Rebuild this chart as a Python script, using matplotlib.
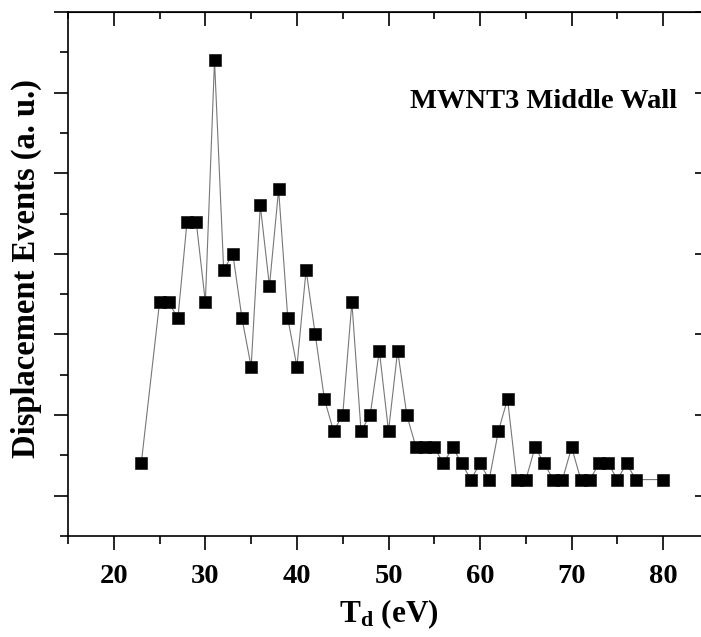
import numpy as np
import matplotlib
matplotlib.use("Agg")
import matplotlib.pyplot as plt

# threshold energy (eV) and number of displacement events
energy = [23, 25, 26, 27, 28, 29, 30, 31, 32, 33, 34, 35, 36, 37, 38, 39, 40,
          41, 42, 43, 44, 45, 46, 47, 48, 49, 50, 51, 52, 53, 54, 55, 56, 57,
          58, 59, 60, 61, 62, 63, 64, 65, 66, 67, 68, 69, 70, 71, 72, 73, 74,
          75, 76, 77, 80]
events = [4, 14, 14, 13, 19, 19, 14, 29, 16, 17, 13, 10, 20, 15, 21, 13, 10,
          16, 12, 8, 6, 7, 14, 6, 7, 11, 6, 11, 7, 5, 5, 5, 4, 5,
          4, 3, 4, 3, 6, 8, 3, 3, 5, 4, 3, 3, 5, 3, 3, 4, 4,
          3, 4, 3, 3]

x_major = [20, 30, 40, 50, 60, 70, 80]
x_minor = [15, 25, 35, 45, 55, 65, 75, 85]
y_major = [2, 7, 12, 17, 22, 27, 32]
y_minor = [-0.5, 4.5, 9.5, 14.5, 19.5, 24.5, 29.5]

plt.rcParams["font.family"] = ["Liberation Serif", "DejaVu Serif"]
plt.rcParams["font.weight"] = "bold"
plt.rcParams["mathtext.fontset"] = "custom"
plt.rcParams["mathtext.rm"] = "Liberation Serif:bold"
plt.rcParams["mathtext.it"] = "Liberation Serif:bold"
plt.rcParams["mathtext.bf"] = "Liberation Serif:bold"

W, H = 701, 637
fig = plt.figure(figsize=(W / 100, H / 100), dpi=100)
# right spine sits just past the figure edge
left, right, bottom, top = 68, 709, 536, 12
ax = fig.add_axes([left / W, 1 - bottom / H, (right - left) / W, (bottom - top) / H])

ax.plot(energy, events, color="#777777", lw=0.8, zorder=2)
ax.plot(energy, events, ls="none", marker="s", ms=8.6, mfc="black",
        mec="black", mew=0.4, zorder=3)

ax.set_xlim(15, 85)
ax.set_ylim(-0.5, 32)
for s in ax.spines.values():
    s.set_linewidth(1.2)

ax.set_xticks(x_major)
ax.set_xticks(x_minor, minor=True)
ax.set_yticks(y_major)
ax.set_yticks(y_minor, minor=True)
ax.tick_params(which="both", direction="out", top=False, right=False,
               width=1.2, labelsize=20.5, pad=10)
ax.tick_params(which="major", length=10)
ax.tick_params(axis="x", which="minor", length=6)
ax.tick_params(axis="y", which="minor", length=6)
ax.tick_params(axis="y", labelleft=False)

# inward ticks on the top and right edges
top_ax = ax.secondary_xaxis("top")
top_ax.set_xticks(x_major)
top_ax.set_xticks(x_minor, minor=True)
top_ax.tick_params(which="both", direction="in", labeltop=False, width=1.2)
top_ax.tick_params(which="major", length=10)
top_ax.tick_params(which="minor", length=5)

right_ax = ax.secondary_yaxis("right")
right_ax.set_yticks(y_major)
right_ax.set_yticks([], minor=True)
right_ax.tick_params(which="both", direction="in", labelright=False,
                     width=1.2, length=10)

ax.set_xlabel(r"T$_\mathregular{d}$ (eV)", fontsize=22.5, fontweight="bold",
              labelpad=6)
ax.set_ylabel("Displacement Events (a. u.)", fontsize=23.5, fontweight="bold",
              labelpad=6)
ax.yaxis.set_label_coords(-0.041, 0.51)

ax.text(0.95, 0.83, "MWNT3 Middle Wall", transform=ax.transAxes,
        ha="right", va="center", fontsize=20.5, fontweight="bold")

fig.savefig("out.png", dpi=100)
